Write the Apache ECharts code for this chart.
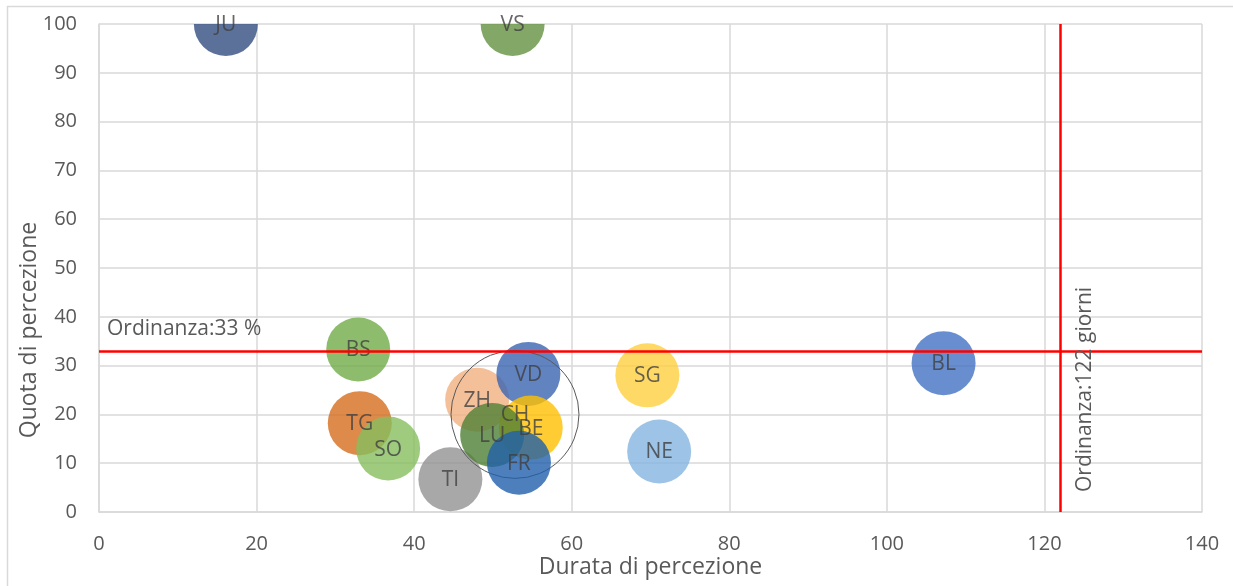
<!DOCTYPE html>
<html>
<head>
<meta charset="utf-8">
<script src="https://cdn.jsdelivr.net/npm/echarts@6/dist/echarts.min.js"></script>
<style>
  html, body { margin: 0; padding: 0; background: #fff; }
  #chart { width: 1233px; height: 586px; }
</style>
</head>
<body>
<div id="chart"></div>
<script>
// Cantoni: durata di percezione (giorni) e quota di percezione (%)
const cantoni = ['JU', 'VS', 'BS', 'TG', 'SO', 'TI', 'ZH', 'VD', 'CH', 'BE', 'LU', 'FR', 'SG', 'NE', 'BL'];
const durata  = [16.1, 52.5, 32.9, 33.1, 36.7, 44.6, 48.0, 54.5, 52.8, 54.8, 49.9, 53.3, 69.6, 71.1, 107.2];
const quota   = [100, 100, 33.3, 18.2, 13.0, 6.7, 23.0, 28.3, 20.0, 17.3, 15.8, 10.1, 28.0, 12.4, 30.5];
// relative bubble weight (CH = aggregate)
const peso    = [1, 1, 1, 1, 1, 1, 1, 1, 4, 1, 1, 1, 1, 1, 1];

// Ordinance thresholds
const sogliaQuota = 33;     // %
const sogliaDurata = 122;   // giorni

// Axis ticks
const xTicks = [0, 20, 40, 60, 80, 100, 120, 140];
const yTicks = [0, 10, 20, 30, 40, 50, 60, 70, 80, 90, 100];

// Fill colour per canton (drawn with partial transparency)
const colori = {
  JU: '#324E80', VS: '#639140', BS: '#70AD47', TG: '#D56D1D', SO: '#86BE5E',
  TI: '#929292', ZH: '#F1B081', VD: '#3A64B0', CH: 'rgba(0,0,0,0)', BE: '#FFC000',
  LU: '#4F8034', FR: '#1F5FAA', SG: '#FFD040', NE: '#84B4E0', BL: '#4472C4'
};

const FONT = '"Open Sans", "DejaVu Sans", sans-serif';
const TXT = '#595959';
const GRID = '#D9D9D9';
const BASE_RADIUS = 32;

const points = cantoni.map((c, i) => [durata[i], quota[i], peso[i], i]);

const chart = echarts.init(document.getElementById('chart'), null, { renderer: 'canvas' });

chart.setOption({
  animation: false,
  backgroundColor: '#fff',
  textStyle: { fontFamily: FONT },
  graphic: [{
    type: 'rect',
    silent: true,
    z: -10,
    shape: { x: 7.5, y: 6.5, width: 1400, height: 800 },
    style: { fill: 'none', stroke: GRID, lineWidth: 1.5 }
  }],
  grid: { left: 99, right: 31, top: 24, bottom: 74 },
  xAxis: {
    type: 'value',
    min: xTicks[0],
    max: xTicks[xTicks.length - 1],
    interval: xTicks[1] - xTicks[0],
    name: 'Durata di percezione',
    nameLocation: 'middle',
    nameGap: 44,
    nameMoveOverlap: false,
    nameTextStyle: { color: TXT, fontSize: 23, fontFamily: FONT },
    axisLine: { show: true, lineStyle: { color: GRID, width: 1.5 } },
    axisTick: { show: false },
    axisLabel: { color: TXT, fontSize: 20, margin: 22, fontFamily: FONT },
    splitLine: { show: true, lineStyle: { color: GRID, width: 1.5 } }
  },
  yAxis: {
    type: 'value',
    min: yTicks[0],
    max: yTicks[yTicks.length - 1],
    interval: yTicks[1] - yTicks[0],
    name: 'Quota di percezione',
    nameLocation: 'middle',
    nameGap: 58,
    nameMoveOverlap: false,
    nameTextStyle: { color: TXT, fontSize: 23, fontFamily: FONT, padding: [0, 124, 0, 0] },
    axisLine: { show: true, lineStyle: { color: GRID, width: 1.5 } },
    axisTick: { show: false },
    axisLabel: { color: TXT, fontSize: 20, margin: 22, fontFamily: FONT },
    splitLine: { show: true, lineStyle: { color: GRID, width: 1.5 } }
  },
  series: [
    {
      // ordinance threshold lines
      type: 'scatter',
      data: [],
      z: 1,
      markLine: {
        silent: true,
        symbol: ['none', 'none'],
        lineStyle: { color: '#FF0000', width: 2.5, type: 'solid' },
        data: [
          {
            yAxis: sogliaQuota,
            label: {
              show: true,
              position: 'insideStartTop',
              formatter: 'Ordinanza:' + sogliaQuota + ' %',
              color: TXT, fontSize: 21, fontFamily: FONT, distance: [8, 11]
            }
          },
          {
            xAxis: sogliaDurata,
            label: {
              show: true,
              position: 'insideStartBottom',
              formatter: 'Ordinanza:' + sogliaDurata + ' giorni',
              color: TXT, fontSize: 21, fontFamily: FONT, distance: [20, 14]
            }
          }
        ]
      }
    },
    {
      // bubbles, clipped to the plot area
      type: 'custom',
      z: 2,
      clip: true,
      silent: true,
      data: points,
      renderItem: (params, api) => {
        const p = api.coord([api.value(0), api.value(1)]);
        const r = BASE_RADIUS * Math.sqrt(api.value(2));
        const c = cantoni[api.value(3)];
        const isTotal = c === 'CH';
        return {
          type: 'circle',
          shape: { cx: p[0], cy: p[1], r: r },
          style: isTotal
            ? { fill: 'none', stroke: '#595959', lineWidth: 1 }
            : { fill: colori[c], opacity: 0.8 }
        };
      }
    },
    {
      // canton labels at bubble centres
      type: 'scatter',
      z: 3,
      silent: true,
      clip: false,
      symbolSize: 1,
      itemStyle: { color: 'rgba(0,0,0,0)' },
      data: cantoni.map((c, i) => ({ name: c, value: [durata[i], quota[i]] })),
      label: {
        show: true,
        position: 'inside',
        formatter: p => p.name,
        color: '#404040',
        fontSize: 21,
        fontFamily: FONT,
        offset: [0, 1]
      }
    }
  ]
});
</script>
</body>
</html>
